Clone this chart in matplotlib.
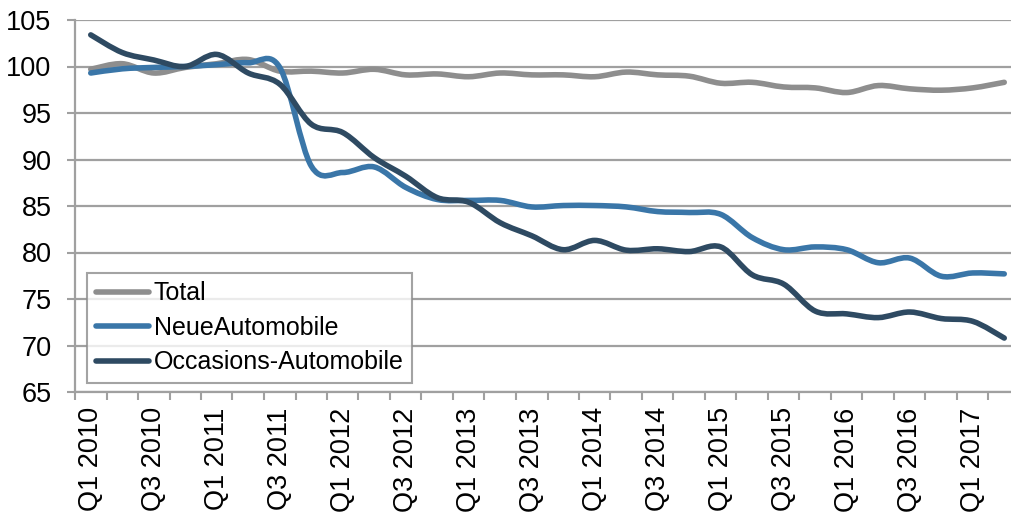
import numpy as np
import matplotlib
matplotlib.use("Agg")
import matplotlib.pyplot as plt
from matplotlib.path import Path
from matplotlib.patches import PathPatch
from matplotlib.lines import Line2D

# -------------------------------
# data (index)
# -------------------------------
quarters = [f"Q{q} {y}" for y in range(2010, 2018) for q in (1, 2, 3, 4)][:30]

total = [99.7, 100.3, 99.3, 99.9, 100.3, 100.75, 99.5, 99.5, 99.3, 99.7,
         99.1, 99.2, 98.9, 99.3, 99.1, 99.1, 98.9, 99.4, 99.1, 98.96,
         98.2, 98.3, 97.8, 97.7, 97.2, 97.95, 97.6, 97.45, 97.7, 98.3]

neue = [99.3, 99.75, 99.9, 100.0, 100.2, 100.4, 99.9, 89.3, 88.6, 89.2,
        87.0, 85.7, 85.6, 85.6, 84.9, 85.05, 85.05, 84.9, 84.4, 84.3,
        84.1, 81.6, 80.3, 80.6, 80.3, 78.9, 79.4, 77.45, 77.8, 77.7]

occasions = [103.4, 101.5, 100.7, 100.0, 101.3, 99.3, 98.1, 93.8, 92.9, 90.2,
             88.2, 85.9, 85.4, 83.2, 81.8, 80.3, 81.3, 80.25, 80.4, 80.1,
             80.6, 77.6, 76.6, 73.7, 73.4, 73.0, 73.6, 72.9, 72.6, 70.8]

series = [("Total", total, "#8e8e8e"),
          ("NeueAutomobile", neue, "#3a76a8"),
          ("Occasions-Automobile", occasions, "#2e4a62")]

FONT = "Liberation Sans"


def smooth_path(xs, ys):
    # Excel-style smoothed line: cubic bezier through every point
    pts = np.column_stack([xs, ys]).astype(float)
    n = len(pts)
    verts = [pts[0]]
    codes = [Path.MOVETO]
    for i in range(n - 1):
        p0 = pts[i - 1] if i > 0 else pts[i]
        p1 = pts[i]
        p2 = pts[i + 1]
        p3 = pts[i + 2] if i + 2 < n else pts[i + 1]
        verts += [p1 + (p2 - p0) / 6, p2 - (p3 - p1) / 6, p2]
        codes += [Path.CURVE4] * 3
    return Path(verts, codes)


fig = plt.figure(figsize=(10.12, 5.14), dpi=100)
ax = fig.add_axes([75 / 1012, 122 / 514, 945 / 1012, 372 / 514])

x = np.arange(len(quarters))
handles = []
for name, vals, col in series:
    patch = PathPatch(smooth_path(x, vals), fill=False, edgecolor=col,
                      linewidth=4, capstyle="round", joinstyle="round",
                      transform=ax.transData, zorder=3)
    ax.add_patch(patch)
    handles.append(Line2D([], [], color=col, linewidth=4,
                          solid_capstyle="round", label=name))

ax.set_xlim(-0.5, len(quarters) - 0.5)
ax.set_ylim(65, 105)

# y axis
ax.set_yticks(np.arange(65, 106, 5))
ax.yaxis.grid(True, color="#a0a0a0", linewidth=1.6)
ax.set_axisbelow(True)
ax.tick_params(axis="y", length=6, width=1.5, color="#a0a0a0", pad=11,
               labelsize=19.5)

# x axis: labels every 2nd quarter, tick marks between categories
ax.set_xticks(x[::2])
ax.set_xticklabels(quarters[::2], rotation=90, fontsize=19.5, fontfamily=FONT)
ax.set_xticks(np.arange(-0.5, len(quarters), 1), minor=True)
ax.tick_params(axis="x", which="major", length=0, pad=11)
ax.tick_params(axis="x", which="minor", length=6, width=1.5, color="#a0a0a0")

for lab in ax.get_yticklabels():
    lab.set_fontfamily(FONT)

for side in ("top", "right"):
    ax.spines[side].set_visible(False)
for side in ("left", "bottom"):
    ax.spines[side].set_color("#a0a0a0")
    ax.spines[side].set_linewidth(1.6)

leg = ax.legend(handles=handles, loc="lower left",
                bbox_to_anchor=(0.013, 0.024), prop={"family": FONT, "size": 18},
                frameon=True, fancybox=False, handlelength=2.1,
                handletextpad=0.2, labelspacing=0.42, borderpad=0.35,
                borderaxespad=0)
leg.get_frame().set_edgecolor("#8c8c8c")
leg.get_frame().set_linewidth(1.5)

fig.savefig("out.png", dpi=100)
